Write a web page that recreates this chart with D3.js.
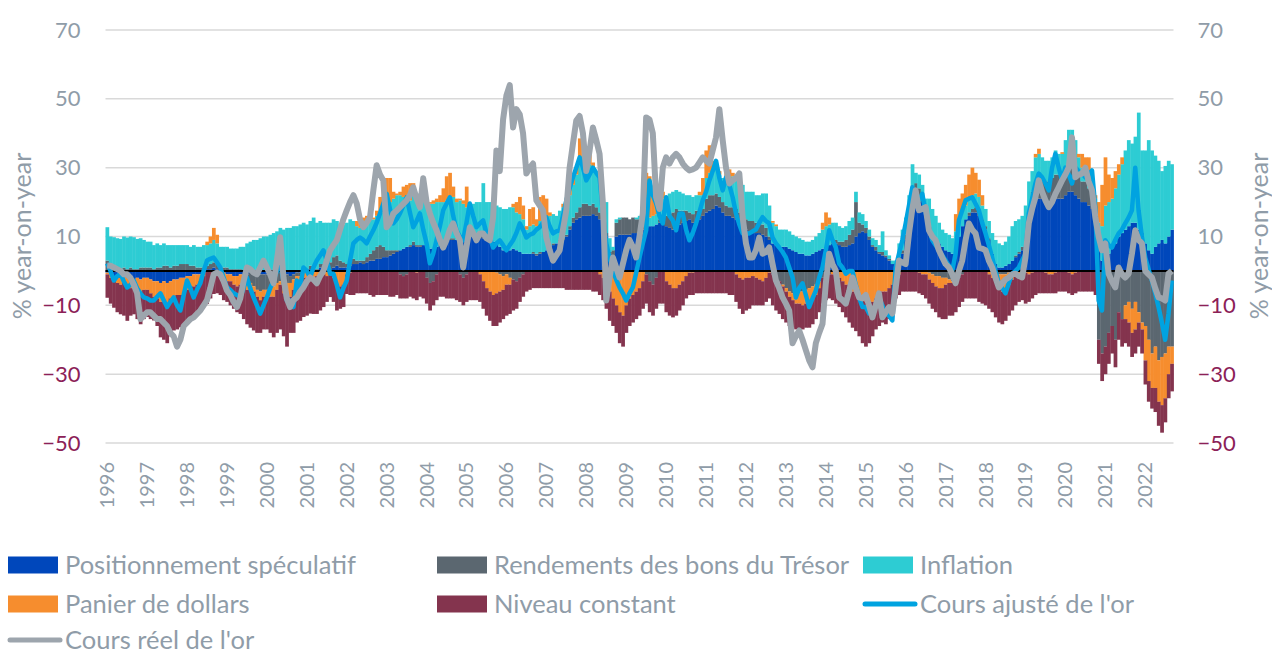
<!DOCTYPE html>
<html>
<head>
<meta charset="utf-8">
<title>Gold price drivers</title>
<script src="https://d3js.org/d3.v7.min.js"></script>
<style>
  body { margin: 0; background: #fff; }
  svg text { font-family: Lato, "Open Sans", sans-serif; }
</style>
</head>
<body>
<div id="chart"></div>
<script>
// monthly data, Jan 1996 .. Sep 2022 (% year-on-year)
const yearLabels = d3.range(1996, 2023).map(String);
const yTicks = [-50, -30, -10, 10, 30, 50, 70];

const speculative = [
  -0.5,-1,-1.5,-2,-2,-1.5,-2,-2,-2.5,-2,-2.5,-2,
  -2,-2.5,-3,-3,-3.5,-3,-3.5,-3,-2.5,-2.5,-2,-2,
  -1.5,-1.5,-1,-1,-1,-0.5,0.5,0.5,1,0.5,0,-0.5,
  -1,-1,-1.5,-1.5,-1,-1,-1,-0.5,-0.5,-1,-1,-1,
  -1,-1,-0.5,0,0.5,-0.5,-1,-1.5,-1,-0.5,-0.5,0,
  0,0.5,0,0,1,1.5,1,0.5,1,1.5,1,1,
  1,1.5,2,2,2.5,2,2.5,3,3,3.5,3.5,4,
  4,4.5,5,5.5,6,6.5,7,7,7.5,7,7,7.5,
  7,6.5,6.5,7,7.5,8,8.5,9,9,9,9.5,9.5,
  9.5,10,10,10.5,10,9.5,9,9,8.5,8,7,6,
  6,6,6.5,6,5.5,5,5,5,5,4.5,5,5.5,
  6,7,7.5,8,8.5,9,10,12,14,15,15.5,16,
  16,16,16.5,16,15,12,10,5,4,10,10.5,10.5,
  10.5,10.5,11,11,11.5,12,12.5,13,13,13.5,14,14.5,
  13,12.5,12,13,13.5,14,14.5,15,14,14.5,15,16,
  17,17.5,18,19,18.5,17,16,16,15.5,15,14,13,
  12,11.5,11,11,11,10.5,10,9,8,7.5,7,7,
  7,6.5,6,5.5,5,5,4.5,4.5,5,5.5,6,6.5,
  7,7.5,8,8,7.5,7,7,7.5,8,10,11,11.5,
  11,9,7,6,5,4.5,4,3,2,1.5,3,5,
  9,14,20,22,21,20,17,13,10,9,8,7,
  6,5.5,5,7,10,13,15,16,17,17,16,14,
  12,9,5,2,1,1,1.5,2,3,4,5,6,
  8,15,19,21,21,21,20,20,21,21,21,21,
  22,23,23,22,21,20,20,19,18,14,6,3,
  4,5,7,8,10,11,12,13,14,14,12,11,
  8,6,5,7,8,9,8,10,12
];
const treasury = [
  3,1.5,1,1,0.5,1,0.5,1,0.5,0.5,1,1,
  1,1,0.5,1,1,1.5,1.5,1,1.5,1.5,2,2,
  2,1.5,1.5,1,1,1,1,1.5,1.5,1.5,1,1,
  1,0.5,0.5,0.5,0.5,-0.5,-2,-3,-4,-4.5,-5,-4.5,
  -4.5,-4,-4,-3.5,-3,-3,-2.5,-2,-1.5,-1,-1,0.5,
  0.5,1,0.5,0.5,1,0.5,1,2,3,3,2,1.5,
  1,1,1.5,1,0.5,1,1.5,2,3,3.5,4,3,
  2,1.5,1,0.5,-1,-1.5,-1,0.5,1,0.5,0.5,0,
  -2,-3.5,-3,-1,0.5,1,1,0.5,0.5,0,-1,-2,
  -1,0,0.5,0.5,0.5,1,0.5,0.5,0,-0.5,-1,-1.5,
  -1,-2,-2.5,-3,-2,-1,0,0,0.5,0.5,0.5,0,
  0,0,0.5,0,0.5,0.5,0.5,1,1.5,2,3,3.5,
  3.5,3,3,2.5,2,1.5,1,0.5,2,4,4.5,5,
  5,4.5,4.5,4,3.5,3,-1,-3,-4,-2,1,1.5,
  3,4,5,5,4,3.5,3,2,2.5,3,2.5,2,
  4,4.5,4,3.5,3,3,3,2.5,3,3,3,3,
  3,3,3.5,3,3,3,2.5,1,-1,-2,-3,-4,
  -5,-6,-6.5,-6.5,-6,-6,-5.5,-5,-4.5,-4,-3,-2,
  -1.5,-1,0.5,1,1,1.5,2,3,4,10,3,2,
  1.5,1,0.5,1,0.5,1,0.5,0.5,0,0.5,1,1,
  1.5,2,3,3.5,3,2,1,-0.5,-1,-1.5,-1.5,-2,
  -2,-2.5,-3,-3,-2,-1,0,1,1,1.5,1.5,1,
  1,0.5,0,-0.5,-1,-1,-1,-0.5,0,0.5,0.5,1,
  1,2,4,5,6,6,6,6,6,7,7,7,
  7,8,8,7,7,6,6,5,4,2,-20,-24,
  -22,-18,-16,-20,-12,-14,-10,-9,-11,-9,-12,-15,
  -16,-20,-24,-22,-26,-25,-24,-22,-22
];
const inflation = [
  9.7,8.5,8.8,8.5,8.8,9,9.2,9,9.3,8.8,8.5,8,
  7.5,7.5,7,7,6.5,6.5,6,6.5,6,6,5.5,5.5,
  5.5,5.5,6,6,6,6.5,6,6,6.5,6,6,6,
  6,6,6,6,6.5,7,8,8.5,9,9,9.5,10,
  10,10.5,11,11.5,12,12,12.5,12.5,13,13,13.5,13.5,
  13,13,15,13.5,12.5,12,12,11.5,11,10,10.5,11,
  12,12.5,11,10,9.5,9.5,10,10,9,9,10,10,
  13,14,15,16,16,15,14,13,14,15,14,14,
  13,13,13,13,12,11,11,11,12,11,11,10,
  9,8,9,9,9.5,15,10.5,10.5,11,11,11.5,12,
  12,12.5,12,11,11,10,7,8,8,8,9,9.5,
  9,9,8.5,8,8.5,9,9.5,9,9.5,11,13,14,
  13,12,11,10,10,10,9,4,1,1,0.5,0,
  0,0,0,0.5,1,1.5,2,2.5,3,3,4,5,
  5,6,6,5.5,5.5,5,4.5,5,5,4.5,4.5,4,
  6,6.5,7,7,6.5,7,7.5,8,9,10,10,9,
  8,8.5,8.5,8,8,9,10,9,6,5.5,5,5,
  5,5,4.5,4.5,4.5,4,4,4,4,4.5,5,5.5,
  6,6,5.5,5,4.5,4,4,4,3.5,3,3,3,
  2,2,2,2,2,6,1.5,1,1,1,4,6,
  5,6,8,3,4,3,3,8,8,7,6,5,
  5,5,4.5,4.5,5,4.5,4,4,4,4,4,4,
  5,5,6,7,7,6.5,7,8,10,10,9.5,9,
  10,9,6,7,7,6,6,6,6,7,6,6,
  9,10,10,9,5,4,4,4,5,5,8,10,
  15,15,14,16,18,20,23,25,23,25,34,24,
  27,32,30,26.5,24,20,22.5,22,19
];
const dollar = [
  -0.5,-1,-1,-1.5,-2,-2,-2.5,-3,-2,-3,-4,-3.5,
  -3.5,-4,-4.5,-5,-5.5,-6,-6,-5,-5,-4.5,-5,-4.5,
  -4,-4,-3.5,-3,-2,-1,1,2,3.5,2.5,-0.5,-1.5,
  -2,-2,-2.5,-3,-3,-3,-2.5,-2,-1.5,-2,-2.5,-2,
  -2,-2.5,-3,-2,-1,-3,-5,-4,-3,-2.5,-2,-2,
  -2,-2,-2,-1.5,-1,-1,-1.5,-1,-2,-4,-4.5,-4,
  -1,-0.5,0,1.5,2.5,3,2,1,0.5,1.5,4,9,
  8,7,2,0.5,1,3,4,5,3,-0.5,0.5,1,
  0,0.5,1,1,2,4,7,8,3,1,0.5,1,
  6,1,0,0,-1,-3,-5,-6,-7,-6,-5,-4,
  -3,-2,1,3,5,4,1,5,5,2,7,7,
  6,1,0,0,0,1,1,2,3,2,7,3,
  2,3,1,0,-1,-2,-4,-6,-8,-10,-12,-13,
  -10,-8,-7,-6,-5,-3,14,12,8,6,4,2,
  -3,-4,-5,-5,-4,-3,-1.5,-0.5,-0.5,0,1,5,
  8,8,3,2,1,0,2,3,1,-1,-2,-2.5,
  -2,-2,-1.5,-2,-2.5,-3,-2,-0.5,0.5,0.5,0,-0.5,
  -1,-1.5,-2,-3,-3.5,-4,-4,-4.5,-4,-3,-2,2,
  4,2,-1,-1.5,-2,-3,-4,-5,-6,-6.5,-7,-8,
  -9,-10,-9,-8,-7,-6,-6,-5,-4,-2,-1,0,
  0,0,0,0,-0.5,-1,-1,-2,-2.5,-3,-3.5,-3,
  -2,-1,-0.5,5,6,5,6,7,8,6,5,3,
  0,-1,-2,-3,-4,-5,-4.5,-3.5,-2.5,-1.5,-1,-0.5,
  -0.5,-1,-0.5,1,1.5,0,-0.5,-1,-1,-0.5,0,0.5,
  0,-0.5,-1,-0.5,1,4,3,5,2,1,6,12,
  14,8,6,5,3,2,-4,-6,-7,-8,-3,-2,
  -10,-12,-10,-12,-12,-14,-13,-8,-5
];
const constant = [
  -6.8,-7.5,-8.2,-8.5,-8.6,-9.5,-10,-8,-8.1,-9,-9,-8.5,
  -7.9,-7.5,-6.9,-8,-10.3,-11,-11.5,-11,-9.8,-10,-9.4,-9.5,
  -9.9,-9,-8.9,-8,-7.5,-8.5,-9.6,-8,-6.7,-6.5,-6.5,-6.5,
  -6,-7,-7,-7.5,-8.5,-9.5,-10,-11,-11.3,-10.5,-9.5,-9.5,
  -9.5,-10.5,-11.8,-12.5,-13,-12.5,-13.5,-10.5,-12.5,-11,-11,-11.4,
  -11,-10.4,-10.5,-11,-10.5,-9.5,-7.5,-6.6,-7,-7.5,-6.5,-6.5,
  -5.7,-6.5,-7,-6.5,-6.5,-6.5,-6.5,-7,-7.5,-7,-7,-7,
  -7,-7.5,-7.5,-7,-7,-6.5,-7,-7.5,-8,-8,-7.5,-8,
  -7.5,-8,-7,-7.5,-7.5,-7.5,-8,-8,-8,-8.5,-8,-8,
  -8,-8.5,-8.5,-8.5,-8,-8,-8,-8.5,-9,-9.5,-9,-8.5,
  -9,-8.5,-9,-8,-7,-6.5,-6,-5.5,-5,-5,-5,-5,
  -5,-5,-5,-5,-5,-5,-5.5,-5.5,-5.5,-5.5,-5.5,-5.5,
  -5.5,-5.5,-6,-6,-6,-6.5,-7,-8.5,-8,-8,-9,-9,
  -8,-8,-8,-8,-8,-8,-8.5,-9,-9,-9,-9.5,-9.5,
  -9,-9,-8.5,-8,-7.5,-7,-6.5,-6.5,-6.5,-6.5,-6.5,-6.5,
  -6.5,-6.5,-6.5,-6.5,-6.5,-6.5,-6.5,-7,-7,-8,-9,-10,
  -9.5,-9,-8.5,-8,-7.5,-7,-7,-7.5,-9,-9.5,-9.5,-9.5,
  -9,-8.5,-8,-7.5,-7.5,-7,-7,-7,-7,-7,-7,-7.5,
  -7,-7,-7.5,-8,-8.5,-9,-9.5,-10,-10.5,-11,-12,-13,
  -13,-11,-10,-9,-9,-9,-9.5,-9,-7,-6,-6,-6,
  -6,-6,-6,-6,-6,-6,-7,-7,-7.5,-7.5,-8.5,-9,
  -10,-9.5,-9.5,-9,-8.5,-8,-8,-8,-8,-8,-9,-9.5,
  -10,-10,-10,-10,-10,-9.5,-9,-9,-9,-8.5,-8,-8,
  -9,-8,-7.5,-7,-6.5,-6.5,-6,-5.5,-5.5,-6,-6,-6,
  -6,-6,-6,-6,-6,-6,-6,-6,-6,-7,-7,-8,
  -8,-9,-8,-8,-8,-8,-7,-7,-7,-7,-7,-7,
  -7,-6,-6,-7,-7,-8,-7,-7,-8
];
const adjustedGold = [
  2.2,0,-2.8,-1.5,-0.8,-3,-4.8,-4,-2.8,-5,-6.5,-7.7,
  -8,-8.6,-8.6,-7.5,-6.5,-8.5,-10.5,-9,-7.7,-10,-11.5,-7,
  -2.8,-5,-7.7,-5.5,-3.6,0,3,3.5,3.9,2.5,1,-2,
  -4.8,-5.5,-6.5,-7,-7.7,-5,-1.9,-5,-7.7,-10,-12.4,-10,
  -7.7,-5,-2.8,0,2.2,-3,-8.6,-8.6,-10.5,-2.8,-4.8,1,
  0,-1.9,1,3,4.5,6,3,-0.8,-0.8,-4,-7.7,-5,
  -2.8,3,8,9,9.7,9,8,10,11.8,14,16.7,19.5,
  22.4,18,13.8,15,16.7,19,21.4,17,12.7,14.5,16.7,12,
  8,2.2,5,8.9,13,17.6,19.5,21.4,16,11.8,10,8.9,
  14,19.6,16,12.7,13.8,14.7,10.9,9.7,6.8,8,8.9,7.5,
  6,7.5,8.9,11,13.8,12,9.7,10.5,10.9,12,12.7,14,
  15.6,13,10.9,11.5,11.8,16,20.5,24,27.2,30,33,30,
  26.3,28,30,28.5,27.2,16.7,8,3.9,0,-2.5,-4.8,-6.5,
  -8.6,-6.5,-4.8,-0.5,3.9,8,11.8,26.3,22,19.6,16,13.8,
  21.4,16,14.7,11.8,16.7,16.7,12,8.9,11,13.8,17,20.5,
  23,26.3,29,32,27,23.4,27.2,25,21.4,16.7,13.5,10.9,
  10.9,10.9,11.5,12,14,15.6,14.5,13.8,9.7,8,6.8,5.5,
  3.9,1,-1.9,-7.7,-5,-3.6,-7,-10.5,-8,-5.7,-2,1,
  6,11.8,9,6.8,2.2,1,-0.8,0,0,-4,-7.7,-10.5,
  -10.5,-12.4,-12.4,-10,-7.7,-10,-12.4,-13,-14.4,1,5,8.9,
  13.8,19,24.3,22,20.5,22.4,17,12.7,8.9,7.5,6,4.5,
  3,1.5,0,5,14.7,17.6,20.5,21,21.4,19.5,17.6,14,
  10.9,7.5,3.9,0,-3.6,-5,-6.5,-3.5,-0.8,0,1,3,
  5,16.7,21,25.4,28.3,27.2,25.4,23.4,30,34,30,26.3,
  30,28,25.4,30,29,28.3,27.2,28,29.2,18.5,-8.6,-11.5,
  8.9,7.5,6.8,9,10.9,12,13.8,15.5,17.6,30,17.6,10,
  3.9,0.5,-2.8,-6.5,-10.5,-15,-20,-12.4,-2.8
];
const realGold = [
  1.6,1.5,1,0.5,0,-1,-1,-2,-4,-6.5,-14,-13,
  -12,-12,-13,-14,-14,-15,-16,-18,-19,-22,-20,-16,
  -15,-14,-13.5,-12.5,-11.5,-10,-8.5,-5,-1,-0.5,-1,-3,
  -5.7,-7,-9,-10.5,-8,-3,1,0.5,-0.5,-1,1,3,
  1,-1,-3.6,3,9.8,-2,-8,-10.5,-8.5,-7.7,-6,-4.8,
  -3,-1.9,-2.5,-3.6,-1.5,0,3,6,7.5,8.9,12,15,
  17.6,20,22,19.6,15,12.7,14,15.6,23.4,30.7,28,26.3,
  12.7,14,16.7,17.5,18.5,19.5,20.5,22,24.3,21,18.5,26.9,
  20,16.7,14,11.8,9,6.8,9,12,13.8,11,8.9,1,
  7,12.7,11,8.9,10.9,10.9,9.5,8.9,15.6,35,29,44,
  51,54,41.7,47,45.5,40,28.3,30,31.2,20.5,19,17.6,
  9.7,6,3,4.5,6,12,17.6,30,37,43.7,45,40,
  29,35,41.7,38,34,19.6,-8.6,-2,3.9,1,-1.9,2,
  6,9,7,3.9,10,16.7,44.6,44,40,21.4,18,30,
  33,31.2,33,34,33,31.2,30,29.2,29.5,30,31.5,33,
  32,31.2,35,38.8,47,38,30,25.4,26.3,27,28.3,15.6,
  8,3.9,3.9,6,9.7,5,5.5,6.8,2,-2.8,-5,-7.7,
  -9.5,-11.5,-21,-19,-17.3,-20,-23,-26,-28,-21,-18,-15.4,
  -3.6,5,2,0,-7.7,-8.5,-9.5,-6,-1.9,-5,-7.7,-8,
  -7,-10,-13.5,-10,-6.5,-13.5,-12,-10.5,-12.4,-5,3,2.5,
  2,10.9,18,23.4,17.6,18,18.5,11.8,10,8.9,6,3.9,
  2,1,-1,-3.6,0,3,8.9,13.8,12,10.9,6.8,6.5,
  6,3,1,-2,-4.8,-3.6,-2.5,-1.9,-1,-0.8,-1.5,-1.9,
  3.9,13.8,18,21.4,26.3,23,20.5,18.5,20,22.4,24.3,26.3,
  28,30,38.8,27.2,28,28.3,30,26,23.4,15.6,10,6,
  8,-0.8,-3,-4.8,1,-1,-1.9,-0.8,5,11.8,9,8,
  0,-1,-1.9,-5,-7.7,-8,-8.6,-0.8,0
];

const keys = ["spec", "tsy", "infl", "usd", "cst"];
const colors = { spec: "#0047BB", tsy: "#5B6770", infl: "#2DCCD3", usd: "#F68D2E", cst: "#84344E" };
const adjColor = "#00A3E0", realColor = "#9DA5AD";
const textGray = "#8F9CA8", negColor = "#8C2157";

const months = speculative.map((d, i) => i);
const rows = months.map(i => ({
  i: i, spec: speculative[i], tsy: treasury[i], infl: inflation[i], usd: dollar[i], cst: constant[i]
}));

const W = 1272, H = 653;
const left = 105.5, right = 1173.5;

const svg = d3.select("#chart").append("svg")
  .attr("width", W).attr("height", H);

const x = d3.scaleBand().domain(months).range([left, right]).padding(0);
const y = d3.scaleLinear().domain([-50, 70]).range([443, 30]);
const bw = x.bandwidth();

// gridlines
svg.append("g").selectAll("line").data(yTicks).join("line")
  .attr("x1", left).attr("x2", right)
  .attr("y1", d => y(d)).attr("y2", d => y(d))
  .attr("stroke", "#D9D9D9").attr("stroke-width", 1.5);

// stacked bars
const series = d3.stack().keys(keys).offset(d3.stackOffsetDiverging)(rows);
svg.append("g").selectAll("g").data(series).join("g")
  .attr("fill", s => colors[s.key])
  .selectAll("rect").data(s => s).join("rect")
  .attr("x", d => x(d.data.i))
  .attr("width", bw + 0.4)
  .attr("y", d => y(Math.max(d[0], d[1])))
  .attr("height", d => Math.abs(y(d[0]) - y(d[1])));

// zero line
svg.append("line")
  .attr("x1", left).attr("x2", right)
  .attr("y1", y(0)).attr("y2", y(0))
  .attr("stroke", "#000").attr("stroke-width", 2);

// lines
const line = d3.line().x((d, i) => x(i) + bw / 2).y(d => y(d));
svg.append("path").datum(adjustedGold)
  .attr("fill", "none").attr("stroke", adjColor).attr("stroke-width", 4.5)
  .attr("stroke-linejoin", "round").attr("d", line);
svg.append("path").datum(realGold)
  .attr("fill", "none").attr("stroke", realColor).attr("stroke-width", 6)
  .attr("stroke-linejoin", "round").attr("d", line);

// y axes
function styleAxis(g) {
  g.select(".domain").remove();
  g.selectAll("text")
    .style("font-size", "22px")
    .attr("fill", d => d < 0 ? negColor : textGray);
}
svg.append("g").attr("transform", `translate(${left},0)`)
  .call(d3.axisLeft(y).tickValues(yTicks).tickSize(0).tickPadding(25))
  .call(styleAxis);
svg.append("g").attr("transform", `translate(${right},0)`)
  .call(d3.axisRight(y).tickValues(yTicks).tickSize(0).tickPadding(24))
  .call(styleAxis);

// axis titles
svg.append("text").attr("transform", "translate(31,236) rotate(-90)")
  .attr("text-anchor", "middle").attr("fill", textGray).style("font-size", "25px")
  .text("% year-on-year");
svg.append("text").attr("transform", "translate(1268,236) rotate(-90)")
  .attr("text-anchor", "middle").attr("fill", textGray).style("font-size", "25px")
  .text("% year-on-year");

// x axis (year labels on January)
const januaries = months.filter(i => i % 12 === 0);
svg.append("g").attr("transform", `translate(0,${y(-50)})`)
  .call(d3.axisBottom(x).tickValues(januaries).tickFormat(i => yearLabels[i / 12]).tickSize(0))
  .call(g => g.select(".domain").remove())
  .selectAll("text")
  .attr("transform", "rotate(-90)")
  .attr("text-anchor", "end")
  .attr("x", -19).attr("y", 0).attr("dy", "0.35em")
  .attr("fill", textGray)
  .style("font-size", "20px");

// legend
const legendItems = [
  { label: "Positionnement spéculatif", color: colors.spec, type: "rect", col: 0, row: 0 },
  { label: "Rendements des bons du Trésor", color: colors.tsy, type: "rect", col: 1, row: 0 },
  { label: "Inflation", color: colors.infl, type: "rect", col: 2, row: 0 },
  { label: "Panier de dollars", color: colors.usd, type: "rect", col: 0, row: 1 },
  { label: "Niveau constant", color: colors.cst, type: "rect", col: 1, row: 1 },
  { label: "Cours ajusté de l'or", color: adjColor, type: "line", col: 2, row: 1 },
  { label: "Cours réel de l'or", color: realColor, type: "line", col: 0, row: 2 }
];
const colX = [8, 437, 863], rowY = [565, 604, 640];
const lg = svg.append("g").selectAll("g").data(legendItems).join("g")
  .attr("transform", d => `translate(${colX[d.col]},${rowY[d.row]})`);
lg.filter(d => d.type === "rect").append("rect")
  .attr("x", 0).attr("y", -8.5).attr("width", 50).attr("height", 17)
  .attr("fill", d => d.color);
lg.filter(d => d.type === "line").append("line")
  .attr("x1", 2).attr("x2", 52).attr("y1", 0).attr("y2", 0)
  .attr("stroke", d => d.color).attr("stroke-width", 5).attr("stroke-linecap", "round");
lg.append("text")
  .attr("x", 57).attr("y", 0).attr("dy", "0.35em")
  .attr("fill", textGray).style("font-size", "25.5px")
  .text(d => d.label);
</script>
</body>
</html>
